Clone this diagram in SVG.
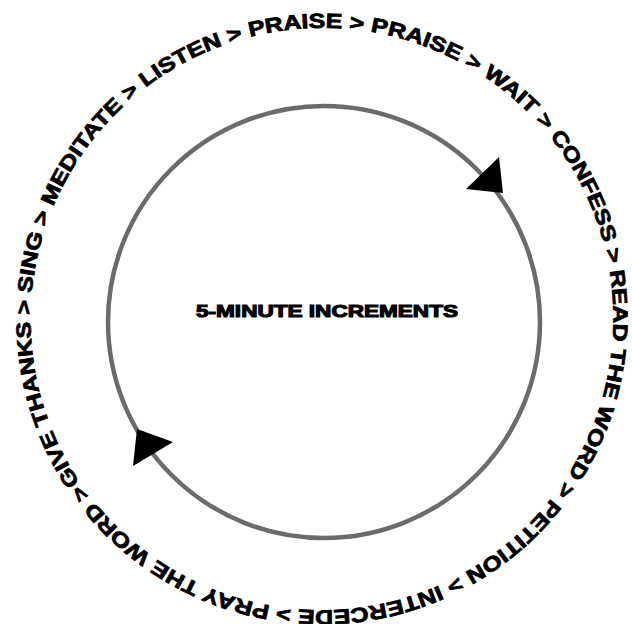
<svg xmlns="http://www.w3.org/2000/svg" xmlns:xlink="http://www.w3.org/1999/xlink" width="632" height="624" viewBox="0 0 632 624">
  <style>
    .ring { fill: none; stroke: #6b6b6b; stroke-width: 4.5; }
    .head { fill: #000; }
    .lbl { font-family: "Liberation Sans", Arial, sans-serif; font-weight: 700; fill: #000; stroke: #000; stroke-width: 0.8; }
    .steps { font-size: 20.5px; }
    .center { font-size: 17px; stroke-width: 1.1; }
  </style>
  <defs>
    <path id="textCircle" d="M 79.92 482.28 A 292 292 0 0 1 564.08 155.72 A 292 292 0 0 1 79.92 482.28"/>
  </defs>
  <rect width="632" height="624" fill="#fff"/>
  <g id="connectors">
    <circle class="ring" cx="324" cy="322" r="216"/>
    <polygon class="head" points="466,189 499,157 503,193"/>
    <polygon class="head" points="137,429 173,442 133,466"/>
  </g>
  <g id="center-node">
    <text class="lbl center" x="327" y="317" text-anchor="middle" textLength="262" lengthAdjust="spacingAndGlyphs">5-MINUTE INCREMENTS</text>
  </g>
  <g id="steps-node">
    <text class="lbl steps"><textPath xlink:href="#textCircle" href="#textCircle" textLength="1828" lengthAdjust="spacingAndGlyphs">GIVE THANKS &gt; SING &gt; MEDITATE &gt; LISTEN &gt; PRAISE &gt;  PRAISE &gt; WAIT &gt; CONFESS &gt; READ THE WORD &gt; PETITION &gt; INTERCEDE &gt; PRAY THE WORD &gt; </textPath></text>
  </g>
</svg>
